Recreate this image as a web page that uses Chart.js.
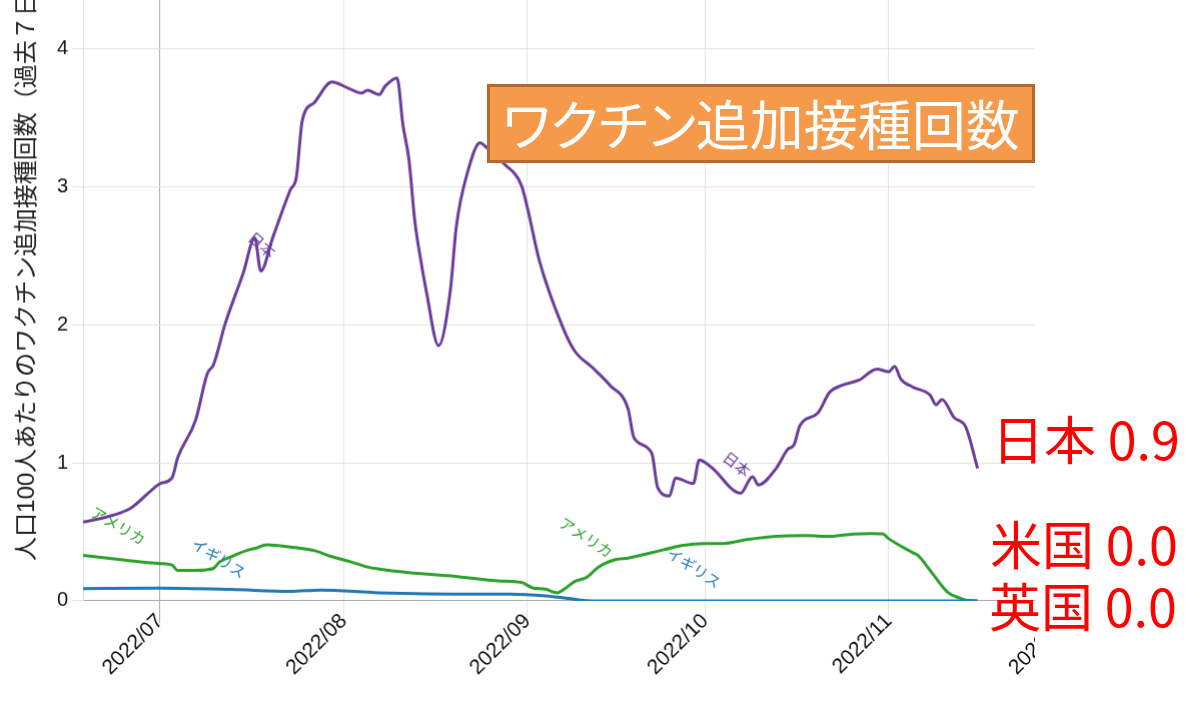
<!DOCTYPE html>
<html lang="ja">
<head>
  <meta charset="UTF-8" />
  <title>ワクチン追加接種回数</title>
  <script src="https://cdn.jsdelivr.net/npm/chart.js"></script>
  <style>
    * { box-sizing: border-box; }
    body {
      margin: 0;
      width: 1200px;
      height: 701px;
      overflow: hidden;
      background: #fff;
      font-family: "Noto Sans CJK JP", sans-serif;
    }
    #clip {
      position: absolute;
      left: 0; top: 0;
      width: 1035px; height: 701px;
      overflow: hidden;
    }
    #wrap {
      position: absolute;
      left: 0; top: -109px;
      width: 1091px; height: 809px;
    }
    .banner {
      position: absolute;
      left: 487px; top: 84px;
      width: 548px; height: 79px;
      background: #f5994b;
      border: 3px solid #b7682c;
      color: #fff;
      font-size: 54px;
      line-height: 72px;
      text-align: center;
      font-feature-settings: "palt";
      white-space: nowrap;
    }
    .last {
      position: absolute;
      color: #ff0000;
      font-size: 52px;
      line-height: 52px;
      white-space: nowrap;
    }
  </style>
</head>
<body>
  <div id="clip">
    <div id="wrap"><canvas id="grafico"></canvas></div>
  </div>
  <div class="banner">ワクチン追加接種回数</div>
  <div class="last" style="left:992px; top:412px;">日本 0.9</div>
  <div class="last" style="left:990px; top:517px;">米国 0.0</div>
  <div class="last" style="left:989px; top:579px;">英国 0.0</div>

  <script>
    // データ
    const START = '2022-06-18';

    const jpDates = ['2022-06-18','2022-06-23','2022-06-26','2022-06-29','2022-07-01','2022-07-03','2022-07-04',
      '2022-07-07','2022-07-09','2022-07-10','2022-07-12','2022-07-15','2022-07-17','2022-07-18','2022-07-20',
      '2022-07-23','2022-07-24','2022-07-25','2022-07-27','2022-07-30','2022-08-02','2022-08-04','2022-08-05',
      '2022-08-07','2022-08-08','2022-08-10','2022-08-11','2022-08-12','2022-08-13','2022-08-14','2022-08-15',
      '2022-08-17','2022-08-19','2022-08-20','2022-08-22','2022-08-24','2022-08-25','2022-08-28','2022-08-31',
      '2022-09-01','2022-09-03','2022-09-07','2022-09-09','2022-09-12','2022-09-15','2022-09-18','2022-09-19',
      '2022-09-22','2022-09-23','2022-09-25','2022-09-26','2022-09-29','2022-09-30','2022-10-02','2022-10-07',
      '2022-10-09','2022-10-10','2022-10-13','2022-10-15','2022-10-16','2022-10-17','2022-10-20','2022-10-22',
      '2022-10-24','2022-10-27','2022-10-30','2022-11-01','2022-11-02','2022-11-03','2022-11-05','2022-11-08',
      '2022-11-09','2022-11-10','2022-11-12','2022-11-14','2022-11-16'];
    const jpValues = [0.57,0.62,0.67,0.78,0.85,0.89,1.04,
      1.31,1.65,1.71,2.01,2.37,2.63,2.39,2.63,
      2.98,3.07,3.48,3.61,3.76,3.71,3.68,3.70,
      3.67,3.73,3.79,3.45,3.20,2.75,2.47,2.23,
      1.85,2.25,2.71,3.12,3.32,3.29,3.17,3.01,
      2.85,2.47,1.98,1.81,1.69,1.56,1.39,1.18,
      1.07,0.82,0.76,0.89,0.85,1.02,0.97,0.78,
      0.90,0.84,0.96,1.10,1.13,1.27,1.36,1.51,
      1.56,1.60,1.68,1.66,1.70,1.61,1.55,1.49,
      1.42,1.46,1.33,1.26,0.96];

    const usDates = ['2022-06-18','2022-06-24','2022-06-26','2022-07-01','2022-07-03','2022-07-04','2022-07-07',
      '2022-07-10','2022-07-11','2022-07-13','2022-07-16','2022-07-17','2022-07-19','2022-07-23','2022-07-27',
      '2022-07-30','2022-08-02','2022-08-05','2022-08-07','2022-08-12','2022-08-19','2022-08-24','2022-08-27',
      '2022-08-31','2022-09-02','2022-09-04','2022-09-06','2022-09-07','2022-09-09','2022-09-11','2022-09-13',
      '2022-09-16','2022-09-18','2022-09-24','2022-09-27','2022-10-01','2022-10-04','2022-10-08','2022-10-13',
      '2022-10-18','2022-10-22','2022-10-26','2022-10-29','2022-10-31','2022-11-01','2022-11-05','2022-11-06',
      '2022-11-08','2022-11-11','2022-11-13','2022-11-14','2022-11-16'];
    const usValues = [0.33,0.30,0.29,0.27,0.26,0.22,0.22,
      0.235,0.28,0.32,0.37,0.38,0.405,0.39,0.365,
      0.32,0.285,0.245,0.23,0.205,0.18,0.157,0.145,
      0.133,0.092,0.085,0.058,0.078,0.14,0.17,0.245,
      0.30,0.31,0.37,0.40,0.415,0.415,0.443,0.467,
      0.472,0.467,0.484,0.488,0.485,0.45,0.35,0.327,
      0.22,0.06,0.02,0.005,0];

    const ukDates = ['2022-06-18','2022-07-01','2022-07-13','2022-07-23','2022-07-28','2022-08-07','2022-08-24',
      '2022-08-29','2022-09-04','2022-09-08','2022-09-10','2022-09-12','2022-10-01','2022-11-01','2022-11-16'];
    const ukValues = [0.089,0.092,0.082,0.068,0.078,0.058,0.048,
      0.048,0.036,0.017,0.005,0,0,0,0];

    const tickDates = ['2022-07-01','2022-08-01','2022-09-01','2022-10-01','2022-11-01','2022-12-01'];
    const tickLabels = ['2022/07','2022/08','2022/09','2022/10','2022/11','2022/12'];

    const seriesNames = ['日本', 'アメリカ', 'イギリス'];
    const jpColor = '#6a3d9a';
    const usColor = '#2ca02c';
    const ukColor = '#1f78b4';

    // 線上のラベル
    const lineLabels = [
      { text: '日本', at: '2022-07-18T06:00', value: 2.58, angle: 40, color: jpColor },
      { text: '日本', at: '2022-10-06T08:00', value: 0.99, angle: 38, color: jpColor },
      { text: 'アメリカ', at: '2022-06-23T22:00', value: 0.545, angle: 30, color: usColor },
      { text: 'アメリカ', at: '2022-09-10T22:00', value: 0.46, angle: 33, color: usColor },
      { text: 'イギリス', at: '2022-07-10T22:00', value: 0.31, angle: 32, color: ukColor },
      { text: 'イギリス', at: '2022-09-29T03:00', value: 0.24, angle: 33, color: ukColor }
    ];

    const YMAX = 5.05;
    const XMAX = 170;           // 日数（2022-06-18 から）
    const PX_PER_UNIT = 137.8;
    const PX_PER_DAY = 5.927;

    function dayOf(s) {
      const t = s.length === 10 ? s + 'T00:00:00Z' : s + 'Z';
      return (Date.parse(t) - Date.parse(START + 'T00:00:00Z')) / 86400000;
    }
    function toPoints(dates, values) {
      return dates.map((d, i) => ({ x: dayOf(d), y: values[i] }));
    }

    const julDay = dayOf('2022-07-01');

    const labelPlugin = {
      id: 'lineLabels',
      afterDatasetsDraw(chart) {
        const { ctx, scales } = chart;
        ctx.save();
        ctx.font = '15px "Noto Sans CJK JP"';
        ctx.textAlign = 'center';
        ctx.textBaseline = 'middle';
        lineLabels.forEach(l => {
          const x = scales.x.getPixelForValue(dayOf(l.at));
          const y = scales.y.getPixelForValue(l.value);
          ctx.save();
          ctx.translate(x, y);
          ctx.rotate(l.angle * Math.PI / 180);
          ctx.fillStyle = l.color;
          ctx.fillText(l.text, 0, 0);
          ctx.restore();
        });
        ctx.restore();
      }
    };

    Chart.defaults.font.family = '"Liberation Sans", "Noto Sans CJK JP", sans-serif';
    Chart.defaults.color = '#222';

    const lineStyle = { borderWidth: 3, pointRadius: 0, cubicInterpolationMode: 'monotone', fill: false };

    const chart = new Chart(document.getElementById('grafico'), {
      type: 'line',
      data: {
        datasets: [
          Object.assign({ label: seriesNames[2], data: toPoints(ukDates, ukValues), borderColor: ukColor }, lineStyle),
          Object.assign({ label: seriesNames[1], data: toPoints(usDates, usValues), borderColor: usColor }, lineStyle),
          Object.assign({ label: seriesNames[0], data: toPoints(jpDates, jpValues), borderColor: jpColor }, lineStyle)
        ]
      },
      options: {
        responsive: true,
        maintainAspectRatio: false,
        animation: false,
        parsing: false,
        layout: { padding: 0 },
        plugins: { legend: { display: false }, tooltip: { enabled: false } },
        scales: {
          x: {
            type: 'linear',
            min: 0,
            max: XMAX,
            afterBuildTicks: s => { s.ticks = tickDates.map(d => ({ value: dayOf(d) })); },
            afterFit: s => { s.height = 100; },
            ticks: {
              autoSkip: false,
              minRotation: 45,
              maxRotation: 45,
              padding: -14,
              font: { size: 21 },
              color: '#111',
              callback: v => tickLabels[tickDates.findIndex(d => dayOf(d) === v)]
            },
            grid: {
              color: c => (c.tick && c.tick.value === julDay) ? '#a9a9a9' : '#e3e3e3',
              lineWidth: 1,
              tickLength: 22
            },
            border: { color: '#a8a8a8' }
          },
          y: {
            min: 0,
            max: YMAX,
            afterFit: s => { s.width = 83; },
            ticks: { stepSize: 1, padding: 4, font: { size: 20 }, color: '#111' },
            grid: { color: '#e3e3e3', lineWidth: 1, tickLength: 11 },
            border: { color: '#dcdcdc' },
            title: {
              display: true,
              text: '人口100人あたりのワクチン追加接種回数（過去７日間）',
              font: { size: 24 },
              color: '#222',
              padding: { top: 13, bottom: 0 }
            }
          }
        }
      },
      plugins: [labelPlugin]
    });

    // 描画領域をグラフの位置に合わせる
    function fit() {
      const wrap = document.getElementById('wrap');
      let ca = chart.chartArea;
      wrap.style.height = (wrap.clientHeight + YMAX * PX_PER_UNIT - (ca.bottom - ca.top)) + 'px';
      wrap.style.width = (wrap.clientWidth + XMAX * PX_PER_DAY - (ca.right - ca.left)) + 'px';
      chart.resize();
      ca = chart.chartArea;
      wrap.style.left = (83 - ca.left) + 'px';
      wrap.style.top = (600 - ca.bottom) + 'px';
    }
    fit();
  </script>
</body>
</html>
